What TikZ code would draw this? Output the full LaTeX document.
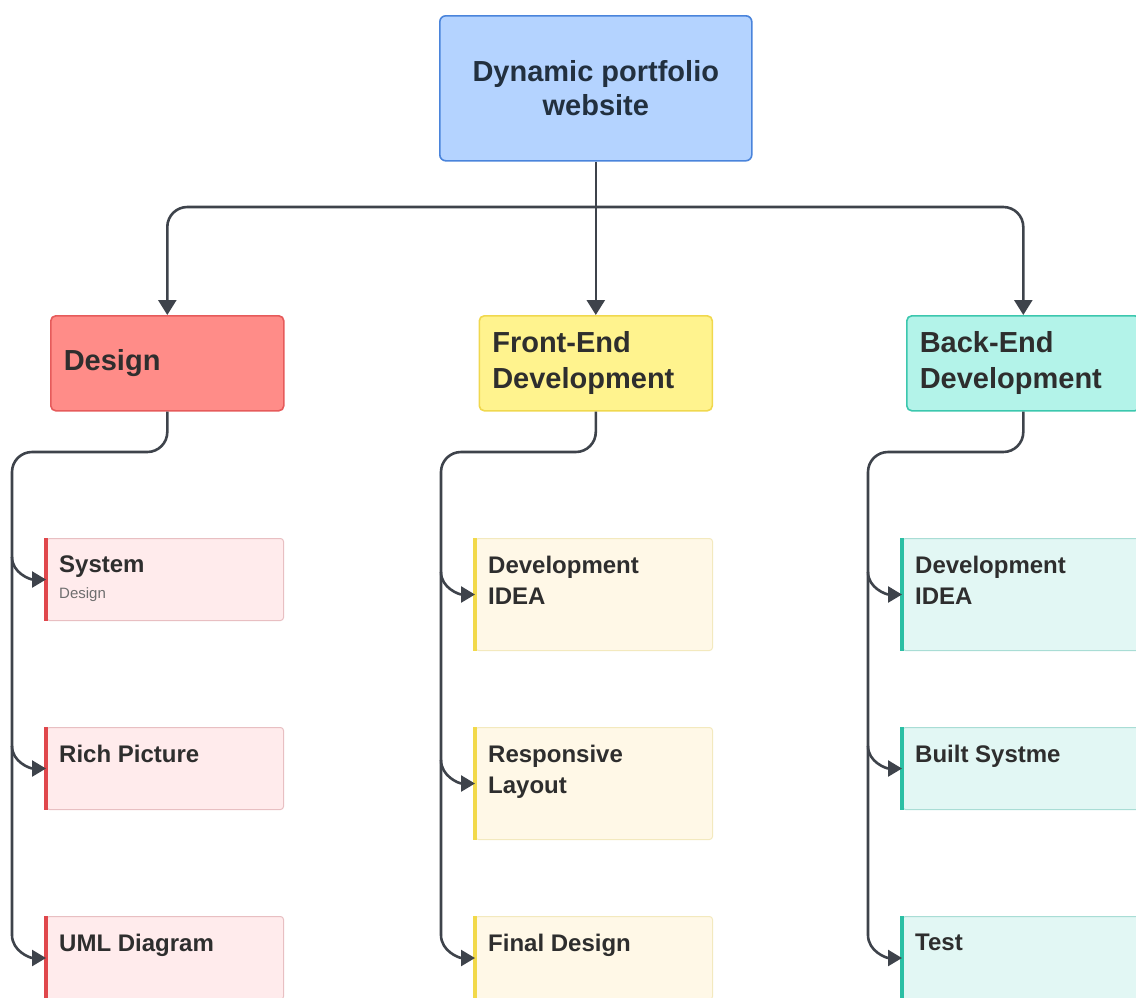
\documentclass[tikz,border=0pt]{standalone}
\usepackage{fontspec}
\setmainfont{Liberation Sans}
\usetikzlibrary{arrows.meta}
\definecolor{linec}{HTML}{3E434B}
\definecolor{txt}{HTML}{2E2E2E}
\definecolor{roottxt}{HTML}{22303F}
\definecolor{subc}{HTML}{6E6E6E}
\definecolor{rootf}{HTML}{B4D3FF}
\definecolor{rootb}{HTML}{4A84DB}
\definecolor{desf}{HTML}{FF8C88}
\definecolor{desb}{HTML}{E65B5B}
\definecolor{fef}{HTML}{FFF38E}
\definecolor{feb}{HTML}{F0D84E}
\definecolor{bef}{HTML}{B3F3E9}
\definecolor{beb}{HTML}{3CC7AE}
\definecolor{dcf}{HTML}{FFEBEC}
\definecolor{dcb}{HTML}{E8BFC2}
\definecolor{dcbar}{HTML}{E0474C}
\definecolor{fcf}{HTML}{FFF8E7}
\definecolor{fcb}{HTML}{F3E9BE}
\definecolor{fcbar}{HTML}{F2D94A}
\definecolor{bcf}{HTML}{E2F7F4}
\definecolor{bcb}{HTML}{A9DDD5}
\definecolor{bcbar}{HTML}{2BBFA4}
\begin{document}
\begin{tikzpicture}[x=1pt,y=-1pt,
  conn/.style={draw=linec, line width=2.6pt},
  toparr/.style={-{Triangle[length=15pt,width=18pt]}},
  childarr/.style={-{Triangle[length=14pt,width=16pt]}},
  rootbox/.style={draw=rootb, fill=rootf, line width=1.6pt, rounded corners=6pt,
    minimum width=312pt, minimum height=145pt, align=center, inner sep=0pt,
    font=\bfseries\fontsize{29}{34}\selectfont, text=roottxt, anchor=north west},
  lvbox/.style={line width=1.6pt, rounded corners=5pt, minimum height=95pt,
    text width=207pt, align=left, inner xsep=13pt, inner ysep=0pt,
    font=\bfseries\fontsize{29}{36}\selectfont, text=txt, anchor=north west},
  cbox/.style={line width=1pt, rounded corners=3pt, minimum width=237pt,
    inner sep=0pt, anchor=north west},
  ctext/.style={anchor=north west, align=left, inner sep=0pt,
    font=\bfseries\fontsize{24}{31}\selectfont, text=txt},
  subtext/.style={anchor=base west, inner sep=0pt,
    font=\fontsize{15}{18}\selectfont, text=subc},
  bar/.style={line width=3.5pt}
]
\useasboundingbox (0,0) rectangle (1136,997);

% root
\node[rootbox] (root) at (439,15) {Dynamic portfolio\\website};

% level 2
\node[lvbox, draw=desb, fill=desf] (des) at (50,315) {Design};
\node[lvbox, draw=feb, fill=fef] (fe) at (478.5,315) {Front-End\\Development};
\node[lvbox, draw=beb, fill=bef] (be) at (906,315) {Back-End\\Development};

% top connectors
\coordinate (bus) at (595,207);
\draw[conn, toparr] (root.south) -- (fe.north);
\draw[conn, toparr, rounded corners=20pt] (bus) -| (des.north);
\draw[conn, toparr, rounded corners=20pt] (bus) -| (be.north);

% design children
\node[cbox, draw=dcb, fill=dcf, minimum height=82pt] (sys) at (46,538) {};
\node[cbox, draw=dcb, fill=dcf, minimum height=82pt] (rich) at (46,727) {};
\node[cbox, draw=dcb, fill=dcf, minimum height=83pt] (uml) at (46,916) {};
\foreach \n in {sys,rich,uml}{\draw[bar, dcbar] (\n.north west) -- (\n.south west);}
\node[ctext] (systxt) at ([shift={(13,18)}]sys.north west) {System};
\node[subtext] (syssub) at ([shift={(13,60)}]sys.north west) {Design};
\node[ctext] (richtxt) at ([shift={(13,18)}]rich.north west) {Rich Picture};
\node[ctext] (umltxt) at ([shift={(13,18)}]uml.north west) {UML Diagram};

% front-end children
\node[cbox, draw=fcb, fill=fcf, minimum height=112pt] (fidea) at (475,538) {};
\node[cbox, draw=fcb, fill=fcf, minimum height=112pt] (resp) at (475,727) {};
\node[cbox, draw=fcb, fill=fcf, minimum height=83pt] (fin) at (475,916) {};
\foreach \n in {fidea,resp,fin}{\draw[bar, fcbar] (\n.north west) -- (\n.south west);}
\node[ctext] (fideatxt) at ([shift={(13,18)}]fidea.north west) {Development\\IDEA};
\node[ctext] (resptxt) at ([shift={(13,18)}]resp.north west) {Responsive\\Layout};
\node[ctext] (fintxt) at ([shift={(13,18)}]fin.north west) {Final Design};

% back-end children
\node[cbox, draw=bcb, fill=bcf, minimum height=112pt] (bidea) at (902,538) {};
\node[cbox, draw=bcb, fill=bcf, minimum height=82pt] (built) at (902,727) {};
\node[cbox, draw=bcb, fill=bcf, minimum height=83pt] (test) at (902,916) {};
\foreach \n in {bidea,built,test}{\draw[bar, bcbar] (\n.north west) -- (\n.south west);}
\node[ctext] (bideatxt) at ([shift={(13,18)}]bidea.north west) {Development\\IDEA};
\node[ctext] (builttxt) at ([shift={(13,18)}]built.north west) {Built Systme};
\node[ctext] (testtxt) at ([shift={(13,18)}]test.north west) {Test};

% design column connectors
\coordinate (dj) at (12,452);
\coordinate (dend) at (12,935);
\coordinate (db1) at (12,557);
\coordinate (db2) at (12,746);
\draw[conn, rounded corners=20pt] (des.south) |- (dj) -- (dend);
\draw[conn, childarr] (db1) to[out=-90,in=180] (sys.west);
\draw[conn, childarr] (db2) to[out=-90,in=180] (rich.west);
\draw[conn, childarr] (dend) to[out=-90,in=180] (uml.west);

% front column connectors
\coordinate (fj) at (441,452);
\coordinate (fend) at (441,935);
\coordinate (fb1) at (441,572);
\coordinate (fb2) at (441,760);
\draw[conn, rounded corners=20pt] (fe.south) |- (fj) -- (fend);
\draw[conn, childarr] (fb1) to[out=-90,in=180] (fidea.west);
\draw[conn, childarr] (fb2) to[out=-90,in=180] (resp.west);
\draw[conn, childarr] (fend) to[out=-90,in=180] (fin.west);

% back column connectors
\coordinate (bj) at (868,452);
\coordinate (bend) at (868,935);
\coordinate (bb1) at (868,572);
\coordinate (bb2) at (868,746);
\draw[conn, rounded corners=20pt] (be.south) |- (bj) -- (bend);
\draw[conn, childarr] (bb1) to[out=-90,in=180] (bidea.west);
\draw[conn, childarr] (bb2) to[out=-90,in=180] (built.west);
\draw[conn, childarr] (bend) to[out=-90,in=180] (test.west);
\end{tikzpicture}
\end{document}
